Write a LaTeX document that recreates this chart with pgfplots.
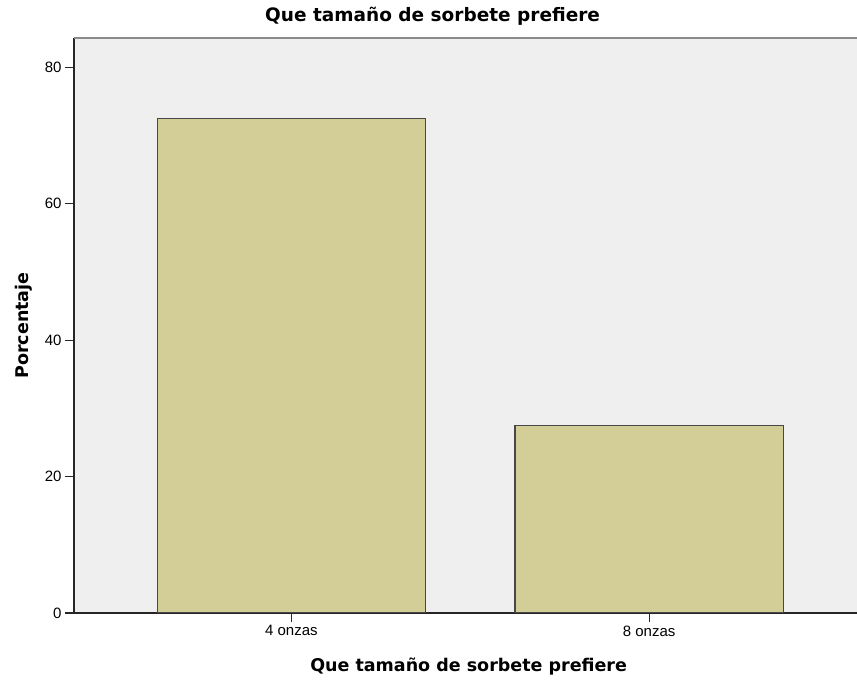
\documentclass[border=0pt]{standalone}
\usepackage{fontspec}
\setmainfont{Liberation Sans}
\newfontfamily\labfont{DejaVu Sans}
\usepackage{pgfplots}
\pgfplotsset{compat=1.18}
\definecolor{plotbg}{HTML}{EFEFEF}
\definecolor{barfill}{HTML}{D3CE97}
\definecolor{baredge}{HTML}{474747}
\definecolor{topline}{HTML}{8A8A8A}

\begin{document}
\begin{tikzpicture}
\begin{axis}[
  scale only axis,
  width=783pt,
  height=575pt,
  xmin=-0.6075, xmax=1.581,
  ymin=0, ymax=84.3,
  axis x line*=bottom,
  axis y line*=left,
  axis line style={line width=1.3pt, black!85},
  axis background/.style={fill=plotbg},
  tick align=outside,
  major tick length=9pt,
  tick style={line width=1.1pt, black!85},
  xtick={0,1},
  xticklabels={4 onzas, 8 onzas},
  ytick={0,20,40,60,80},
  /pgf/number format/assume math mode=true,
  tick label style={font=\fontsize{15}{18}\selectfont},
  title={Que tamaño de sorbete prefiere},
  title style={at={(axis description cs:0.458,1.0191)}, anchor=base,
    font=\labfont\bfseries\fontsize{18.5}{22}\selectfont},
  xlabel={Que tamaño de sorbete prefiere},
  xlabel style={at={(axis description cs:0.504,-0.1026)}, anchor=base,
    font=\labfont\bfseries\fontsize{17.5}{21}\selectfont},
  ylabel={Porcentaje},
  ylabel style={at={(axis description cs:-0.0587,0.5)}, anchor=base,
    font=\labfont\bfseries\fontsize{17.5}{21}\selectfont},
  ybar,
  bar width=0.75,
]
\addplot[fill=barfill, draw=baredge, line width=1.2pt] coordinates {(0,72.5) (1,27.5)};
\draw[topline, line width=1.6pt] (rel axis cs:0,1) -- (rel axis cs:1,1);
\end{axis}
\pgfresetboundingbox
\useasboundingbox (-74pt,-67pt) rectangle (783pt,613pt);
\end{tikzpicture}
\end{document}
